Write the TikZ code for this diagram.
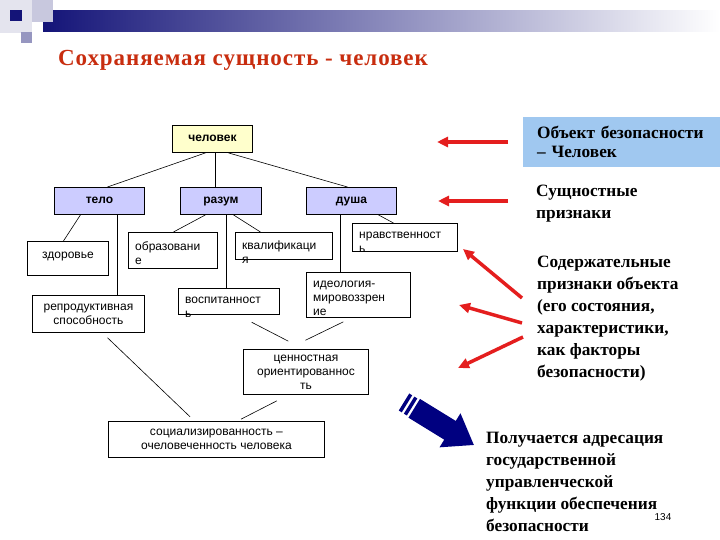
\documentclass[tikz,border=0pt]{standalone}
\usepackage{fontspec}
\setmainfont{Liberation Serif}
\setsansfont{Liberation Sans}
\usetikzlibrary{arrows.meta}

\definecolor{navy}{RGB}{20,20,120}
\definecolor{darknavy}{RGB}{0,0,128}
\definecolor{palesq}{RGB}{228,228,238}
\definecolor{lightsq}{RGB}{200,200,222}
\definecolor{midsq}{RGB}{150,150,192}
\definecolor{lavender}{RGB}{204,204,255}
\definecolor{paleyellow}{RGB}{255,255,204}
\definecolor{skyblue}{RGB}{160,200,240}
\definecolor{titlered}{RGB}{200,45,15}
\definecolor{arrowred}{RGB}{228,30,30}

\newcommand{\boxfont}{\sffamily\fontsize{12}{14}\selectfont}
\newcommand{\notefont}{\rmfamily\bfseries\fontsize{17.3}{22}\selectfont}

\tikzset{
	cell/.style={draw, line width=0.9pt, fill=white, inner sep=0pt, anchor=north west, font=\boxfont},
	topcell/.style={cell, fill=lavender, font=\boxfont\bfseries, text height=9pt, text depth=3pt},
	spill/.style={font=\boxfont, align=left, inner sep=0pt, anchor=north west, xshift=7pt, yshift=-9pt},
	link/.style={line width=0.6pt},
	pointer/.style={arrowred, line width=3.5pt, -{Triangle[length=11pt,width=10pt]}},
	note/.style={font=\notefont, align=left, inner sep=0pt, anchor=north west}
}

\begin{document}
\begin{tikzpicture}[x=1pt, y=-1pt]
	\useasboundingbox (0,0) rectangle (720,540);
	
	% Header bar and corner squares
	\shade[left color=navy, right color=white] (43,11) rectangle (720,32);
	\fill[palesq] (0,0) rectangle (32,33);
	\fill[lightsq] (32,0) rectangle (53,22);
	\fill[navy] (10,10) rectangle (22,21);
	\fill[midsq] (21,32) rectangle (32,43);
	
	% Title
	\node[anchor=base west, inner sep=0pt, font=\rmfamily\bfseries\fontsize{23}{26}\selectfont\addfontfeatures{LetterSpace=4}, text=titlered] (title) at (58,66) {Сохраняемая сущность - человек};
	
	% Define the boxes of the tree
	\node[topcell, fill=paleyellow, minimum width=80pt, minimum height=27pt] (chel) at (172,125) {человек};
	\node[topcell, minimum width=90pt, minimum height=27pt] (telo) at (54,187) {тело};
	\node[topcell, minimum width=81pt, minimum height=27pt] (razum) at (180,187) {разум};
	\node[topcell, minimum width=90pt, minimum height=27pt] (dusha) at (306,187) {душа};
	
	\node[cell, minimum width=81pt, minimum height=34pt, text depth=7pt] (zdor) at (27,241) {здоровье};
	\node[cell, align=center, minimum width=112pt, minimum height=37pt] (repr) at (32,295) {репродуктивная\\способность};
	\node[cell, minimum width=89pt, minimum height=36pt, label={[spill]north west:образовани\\е}] (obraz) at (128,232) {};
	\node[cell, minimum width=97pt, minimum height=27pt, label={[spill]north west:квалификаци\\я}] (kval) at (235,232) {};
	\node[cell, minimum width=101pt, minimum height=26pt, label={[spill]north west:воспитанност\\ь}] (vosp) at (178,288) {};
	\node[cell, minimum width=105pt, minimum height=28pt, label={[spill]north west:нравственност\\ь}] (nravs) at (352,223) {};
	\node[cell, minimum width=104pt, minimum height=45pt, label={[spill]north west:идеология-\\мировоззрен\\ие}] (ideol) at (306,272) {};
	\node[cell, align=center, minimum width=125pt, minimum height=45pt] (cenn) at (243,349) {ценностная\\ориентированнос\\ть};
	\node[cell, align=center, minimum width=216pt, minimum height=36pt] (social) at (108,421) {социализированность --\\очеловеченность человека};
	
	% Draw the links
	\draw[link] ([xshift=-7pt]chel.south) -- ([xshift=8pt]telo.north);
	\draw[link] ([xshift=3pt]chel.south) -- ([xshift=-5.5pt]razum.north);
	\draw[link] ([xshift=16pt]chel.south) -- ([xshift=-4pt]dusha.north);
	\draw[link] ([xshift=-19pt]telo.south) -- ([xshift=-4.5pt]zdor.north);
	\draw[link] ([xshift=18pt]telo.south) -- ([xshift=29pt]repr.north);
	\draw[link] ([xshift=-15.5pt]razum.south) -- ([xshift=0.5pt]obraz.north);
	\draw[link] ([xshift=5.5pt]razum.south) -- ([xshift=-2.5pt]vosp.north);
	\draw[link] ([xshift=12.5pt]razum.south) -- ([xshift=-23.5pt]kval.north);
	\draw[link] ([xshift=-11pt]dusha.south) -- ([xshift=-18pt]ideol.north);
	\draw[link] ([xshift=27pt]dusha.south) -- ([xshift=-11.5pt]nravs.north);
	\draw[link, shorten <=16pt, shorten >=17pt] ([xshift=8.5pt]vosp.south) -- ([xshift=-2.5pt]cenn.north);
	\draw[link, shorten <=9pt, shorten >=20pt] ([xshift=-7pt]ideol.south) -- ([xshift=-18.5pt]cenn.north);
	\draw[link, shorten <=7pt, shorten >=6pt] ([xshift=14pt]repr.south) -- ([xshift=-22pt]social.north);
	\draw[link, shorten <=13pt, shorten >=4pt] ([xshift=-17.5pt]cenn.south) -- ([xshift=21pt]social.north);
	
	% Notes on the right
	\node[note, fill=skyblue, font=\rmfamily\bfseries\fontsize{17.3}{19}\selectfont, text width=178pt, inner xsep=14pt, minimum height=50pt] (obj) at (523,117) {Объект безопасности\\-- Человек};
	\node[note] (sushch) at (536,185) {Сущностные\\признаки};
	\node[note] (soderzh) at (537,256) {Содержательные\\признаки объекта\\(его состояния,\\характеристики,\\как факторы\\безопасности)};
	\node[note] (result) at (486,432) {Получается адресация\\государственной\\управленческой\\функции обеспечения\\безопасности};
	\node[anchor=center, inner sep=0pt, font=\sffamily\fontsize{10}{12}\selectfont] (page) at (663,517) {134};
	
	% Red pointers
	\coordinate (p1) at (508,142); \coordinate (q1) at (437,142);
	\coordinate (p2) at (508,201); \coordinate (q2) at (438,201);
	\coordinate (p3) at (522,298); \coordinate (q3) at (463,249);
	\coordinate (p4) at (522,323); \coordinate (q4) at (459,305);
	\coordinate (p5) at (523,337); \coordinate (q5) at (458,368);
	\foreach \i in {1,...,5}
		\draw[pointer] (p\i) -- (q\i);
	
	% Big blue arrow
	\begin{scope}[shift={(404,402)}, rotate=-31.6]
		\fill[darknavy] (0,-10) rectangle (3.5,10);
		\fill[darknavy] (6,-10) rectangle (9.5,10);
		\fill[darknavy] (12,-11) -- (54,-11) -- (54,-20) -- (82,0) -- (54,20) -- (54,11) -- (12,11) -- cycle;
	\end{scope}
\end{tikzpicture}
\end{document}
